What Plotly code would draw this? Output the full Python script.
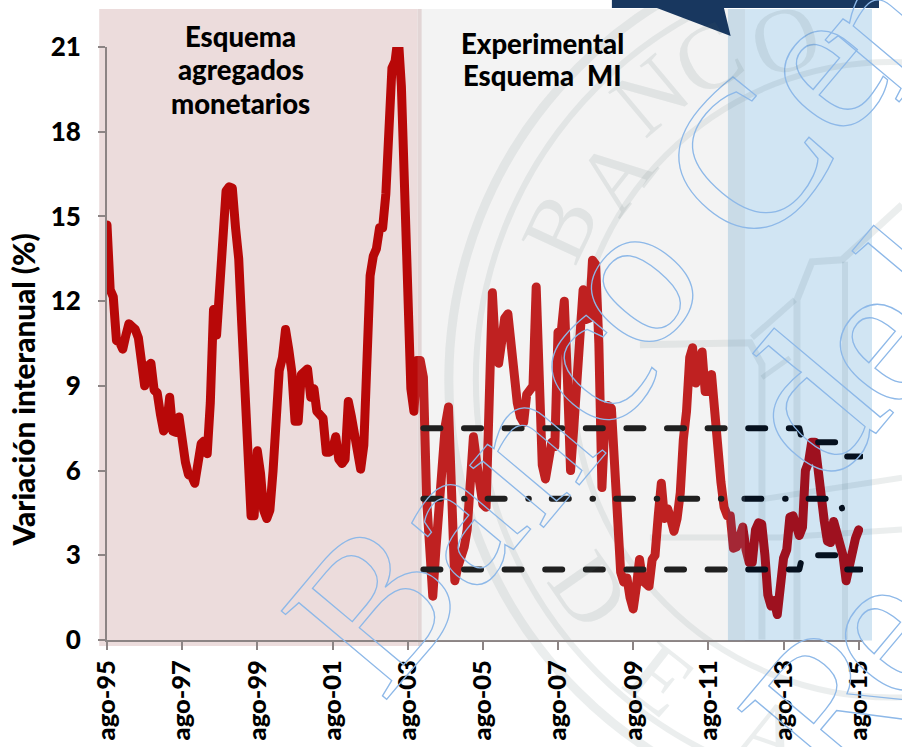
import pandas as pd
import plotly.graph_objects as go

# ---------- data ----------
months = pd.date_range("1995-08-01", "2015-08-01", freq="MS").strftime("%Y-%m-%d").tolist()
inflation = [
    14.7,12.4,12.15,10.6,10.55,10.3,10.8,11.2,11.1,11.0,10.7,10.0,
    9.0,9.7,9.8,8.85,8.75,8.0,7.4,7.55,8.6,7.4,7.35,7.9,
    6.9,6.3,5.85,5.8,5.55,6.6,6.95,7.05,6.6,8.4,11.7,10.8,
    12.5,14.0,15.9,16.05,16.0,14.6,13.5,11.3,8.9,6.6,4.4,4.4,
    6.7,5.9,4.6,4.3,4.6,6.0,7.6,9.55,10.0,11.0,10.3,9.5,
    7.75,7.75,9.4,9.55,9.6,8.6,8.9,8.1,7.9,7.85,6.65,6.65,
    6.75,7.2,6.4,6.25,6.4,8.45,7.9,7.3,6.4,6.05,6.9,11.2,
    12.9,13.6,13.85,14.6,14.6,15.8,19.5,20.25,20.5,21.4,19.6,15.3,
    11.0,8.9,8.1,9.9,9.9,9.3,5.0,2.9,1.55,3.2,4.9,6.5,
    7.6,8.25,5.5,2.1,2.6,2.9,3.3,3.9,5.5,7.2,6.3,5.7,
    4.8,4.7,8.0,12.3,10.3,9.8,10.6,11.4,11.55,10.5,9.0,8.4,
    7.9,7.7,8.7,8.9,9.0,12.5,9.6,6.2,5.7,6.7,7.0,6.85,
    10.9,10.9,12.0,9.2,6.0,7.5,9.5,11.6,12.4,11.35,11.4,13.45,
    13.3,10.5,5.4,7.9,8.3,8.2,6.0,4.4,2.4,2.05,2.2,1.5,
    1.1,1.9,2.85,2.1,2.0,1.9,2.85,3.0,4.4,5.55,4.3,4.65,
    4.3,3.85,4.3,5.2,7.1,8.1,10.0,10.35,9.1,9.5,10.2,8.8,
    8.8,9.4,8.0,6.2,5.6,4.7,4.4,4.4,3.25,3.3,3.8,4.0,
    3.2,2.75,2.75,3.9,4.15,4.1,3.0,1.6,1.2,1.4,0.9,2.0,
    2.9,3.2,4.35,4.4,4.0,3.7,4.0,6.0,6.3,7.0,7.0,5.9,
    4.7,4.2,3.5,3.45,4.2,3.7,3.3,3.0,2.1,2.7,3.3,3.6,
    3.9,
]
band_dates = ["2004-01-01", "2014-01-01", "2014-02-01", "2015-02-01", "2015-03-01", "2015-08-20"]
band_upper = [7.5, 7.5, 7.0, 7.0, 6.5, 6.5]
band_mid = [5.0, 5.0, 5.0, 5.0, 4.5, 4.5]
band_lower = [2.5, 2.5, 3.0, 3.0, 2.5, 2.5]

x_ticks = ["1995-08-01","1997-08-01","1999-08-01","2001-08-01","2003-08-01","2005-08-01",
           "2007-08-01","2009-08-01","2011-08-01","2013-08-01","2015-08-01"]
x_labels = ["ago-95","ago-97","ago-99","ago-01","ago-03","ago-05","ago-07","ago-09","ago-11","ago-13","ago-15"]
y_ticks = [0, 3, 6, 9, 12, 15, 18, 21]
y_title = "Variación interanual (%)"
regime_1 = [("Esquema", 241, 36), ("agregados", 241, 70), ("monetarios", 241, 104)]
regime_2 = [("Experimental", 543, 43), ("Esquema  MI", 543, 76)]

# (letter, centre x, centre y)  of the outlined watermark
wm_letters = [("B",373,605),("a",448,517),("n",520,445),("c",581,360),("o",625,277),
              ("C",745,160),("e",815,65),("n",875,20),
              ("d",807,405),("e",870,339),("l",925,280),
              ("R",830,703),("e",875,630)]
# (letter, x, y, rotation) of the seal
seal_letters = [("B",560,227,-65),("A",615,175,-52),("N",650,95,-40),("C",708,58,-30),("O",785,40,-17),
                ("D",590,590,55),("E",660,680,38),("A",770,735,19)]

# ---------- layout geometry (pixels of the 902x747 page) ----------
L, R, T, B = 107.3, 863.0, 47.0, 640.5
W, H = 902, 747
def px(x): return (x - L) / (R - L)
def py(y): return (B - y) / (B - T)

def rect(x0, y0, x1, y1, color, layer="below"):
    return dict(type="rect", xref="paper", yref="paper", x0=px(x0), x1=px(x1), y0=py(y0), y1=py(y1),
                fillcolor=color, line_width=0, layer=layer)

SEAL = "rgba(70,100,100,0.11)"
def ring(r, w):
    cx, cy = 891, 380
    return dict(type="circle", xref="paper", yref="paper", x0=px(cx-r), x1=px(cx+r), y0=py(cy+r), y1=py(cy-r),
                line=dict(color=SEAL, width=w), fillcolor="rgba(0,0,0,0)", layer="below")
def pline(pts, w=6):
    d = "M " + " L ".join(f"{px(a):.5f},{py(b):.5f}" for a, b in pts)
    return dict(type="path", xref="paper", yref="paper", path=d, line=dict(color=SEAL, width=w), layer="below")

shapes = [
    rect(99.5, 9, 417.7, 646.5, "#ecdcdc"),
    rect(417.7, 9, 422, 646.5, "rgb(223,209,209)"),
    rect(422, 9, 728, 641, "rgb(242,242,242)"),
    rect(728, 9, 745, 641, "rgb(233,242,239)"),
    rect(745, 9, 872, 641, "rgb(244,254,254)"),
    ring(442, 9), ring(415, 6), ring(318, 6),
    pline([(762,640),(762,365),(750,343),(640,345)], 7),
    pline([(797,640),(797,300),(812,262),(842,260),(902,205)], 7),
    pline([(845,640),(845,262)], 6),
    pline([(650,538),(780,538),(902,530)], 6),
    pline([(760,500),(902,478)], 6),
    pline([(752,338),(795,300)], 6),
    pline([(762,378),(790,358)], 5),
    # overlays above the line
    rect(417.7, 9, 745, 641, "rgba(255,255,255,0.1)", "above"),
    rect(728, 9, 872, 641, "rgba(0,79,179,0.14)", "above"),
    dict(type="path", xref="paper", yref="paper", fillcolor="#18375f", line_width=0, layer="above",
         path="M {:.5f},{:.5f} L {:.5f},{:.5f} L {:.5f},{:.5f} L {:.5f},{:.5f} L {:.5f},{:.5f} L {:.5f},{:.5f} L {:.5f},{:.5f} Z".format(
             px(612),py(0), px(879),py(0), px(879),py(8), px(724),py(8), px(730.7),py(36), px(657),py(8), px(612),py(8))),
]

annotations = []
for ch, x, y in wm_letters:
    annotations.append(dict(text=ch, xref="paper", yref="paper", x=px(x), y=py(y), xanchor="center", yanchor="middle",
                            showarrow=False, textangle=-50,
                            font=dict(family="Liberation Serif", size=210, color="#8db8e8")))
N_WM = len(annotations)
for ch, x, y, rot in seal_letters:
    annotations.append(dict(text=ch, xref="paper", yref="paper", x=px(x), y=py(y), xanchor="center", yanchor="middle",
                            showarrow=False, textangle=rot,
                            font=dict(family="Liberation Serif", size=92, color=SEAL)))
for text, x, y in regime_1 + regime_2:
    annotations.append(dict(text=text, xref="paper", yref="paper", x=px(x), y=py(y), xanchor="center", yanchor="middle",
                            showarrow=False, align="center",
                            font=dict(family="Lato", size=27.5, color="#000", weight=900)))
annotations.append(dict(text=y_title, xref="paper", yref="paper", x=px(24), y=py(390), xanchor="center", yanchor="middle",
                        showarrow=False, textangle=-90,
                        font=dict(family="Lato", size=29.6, color="#000", weight=900)))

fig = go.Figure()
fig.add_trace(go.Scatter(x=months, y=inflation, mode="lines", line=dict(color="#b80808", width=9), name="Inflación"))
DASH = "17px,23.6px"
DASHDOT = "17px,23.7px,0.5px,23px"
for vals, d in [(band_upper, DASH), (band_mid, DASHDOT), (band_lower, DASH)]:
    fig.add_trace(go.Scatter(x=band_dates, y=vals, mode="lines", line=dict(color="#060606", width=6, dash=d)))

AX = "#8c8484"
fig.update_layout(
    width=W, height=H, showlegend=False, paper_bgcolor="white", plot_bgcolor="rgba(0,0,0,0)",
    margin=dict(l=L, r=W-R, t=T, b=H-B, pad=0, autoexpand=False),
    shapes=shapes, annotations=annotations,
    xaxis=dict(type="date", range=["1995-08-01", "2015-09-12"], tickmode="array", tickvals=x_ticks, ticktext=x_labels,
               tickangle=-90, ticks="outside", ticklen=8, tickwidth=2, tickcolor=AX, showline=True, linecolor=AX,
               linewidth=2, showgrid=False, zeroline=False, automargin=False,
               tickfont=dict(family="Lato", size=25.5, color="#000", weight=900)),
    yaxis=dict(range=[0, 21], tickmode="array", tickvals=y_ticks, ticks="outside", ticklen=7, tickwidth=2,
               tickcolor=AX, showline=True, linecolor=AX, linewidth=2, showgrid=False, zeroline=False,
               ticklabelstandoff=12, automargin=False,
               tickfont=dict(family="Lato", size=26, color="#000", weight=900)),
)

post = """
document.body.style.margin='0';
var apply=function(){
document.querySelectorAll('.annotation').forEach(function(a){
  if(parseInt(a.getAttribute('data-index'))<%d){
    var t=a.querySelector('.annotation-text');
    t.style.fill='none'; t.style.stroke='#8db8e8'; t.style.strokeWidth='1.3px';
  }
});
document.querySelectorAll('.scatterlayer .js-line').forEach(function(l){
  l.style.strokeLinecap='round'; l.style.strokeLinejoin='round';
});};
apply();
""" % N_WM
fig.write_html("out.html", post_script=post, config={"displayModeBar": False})
